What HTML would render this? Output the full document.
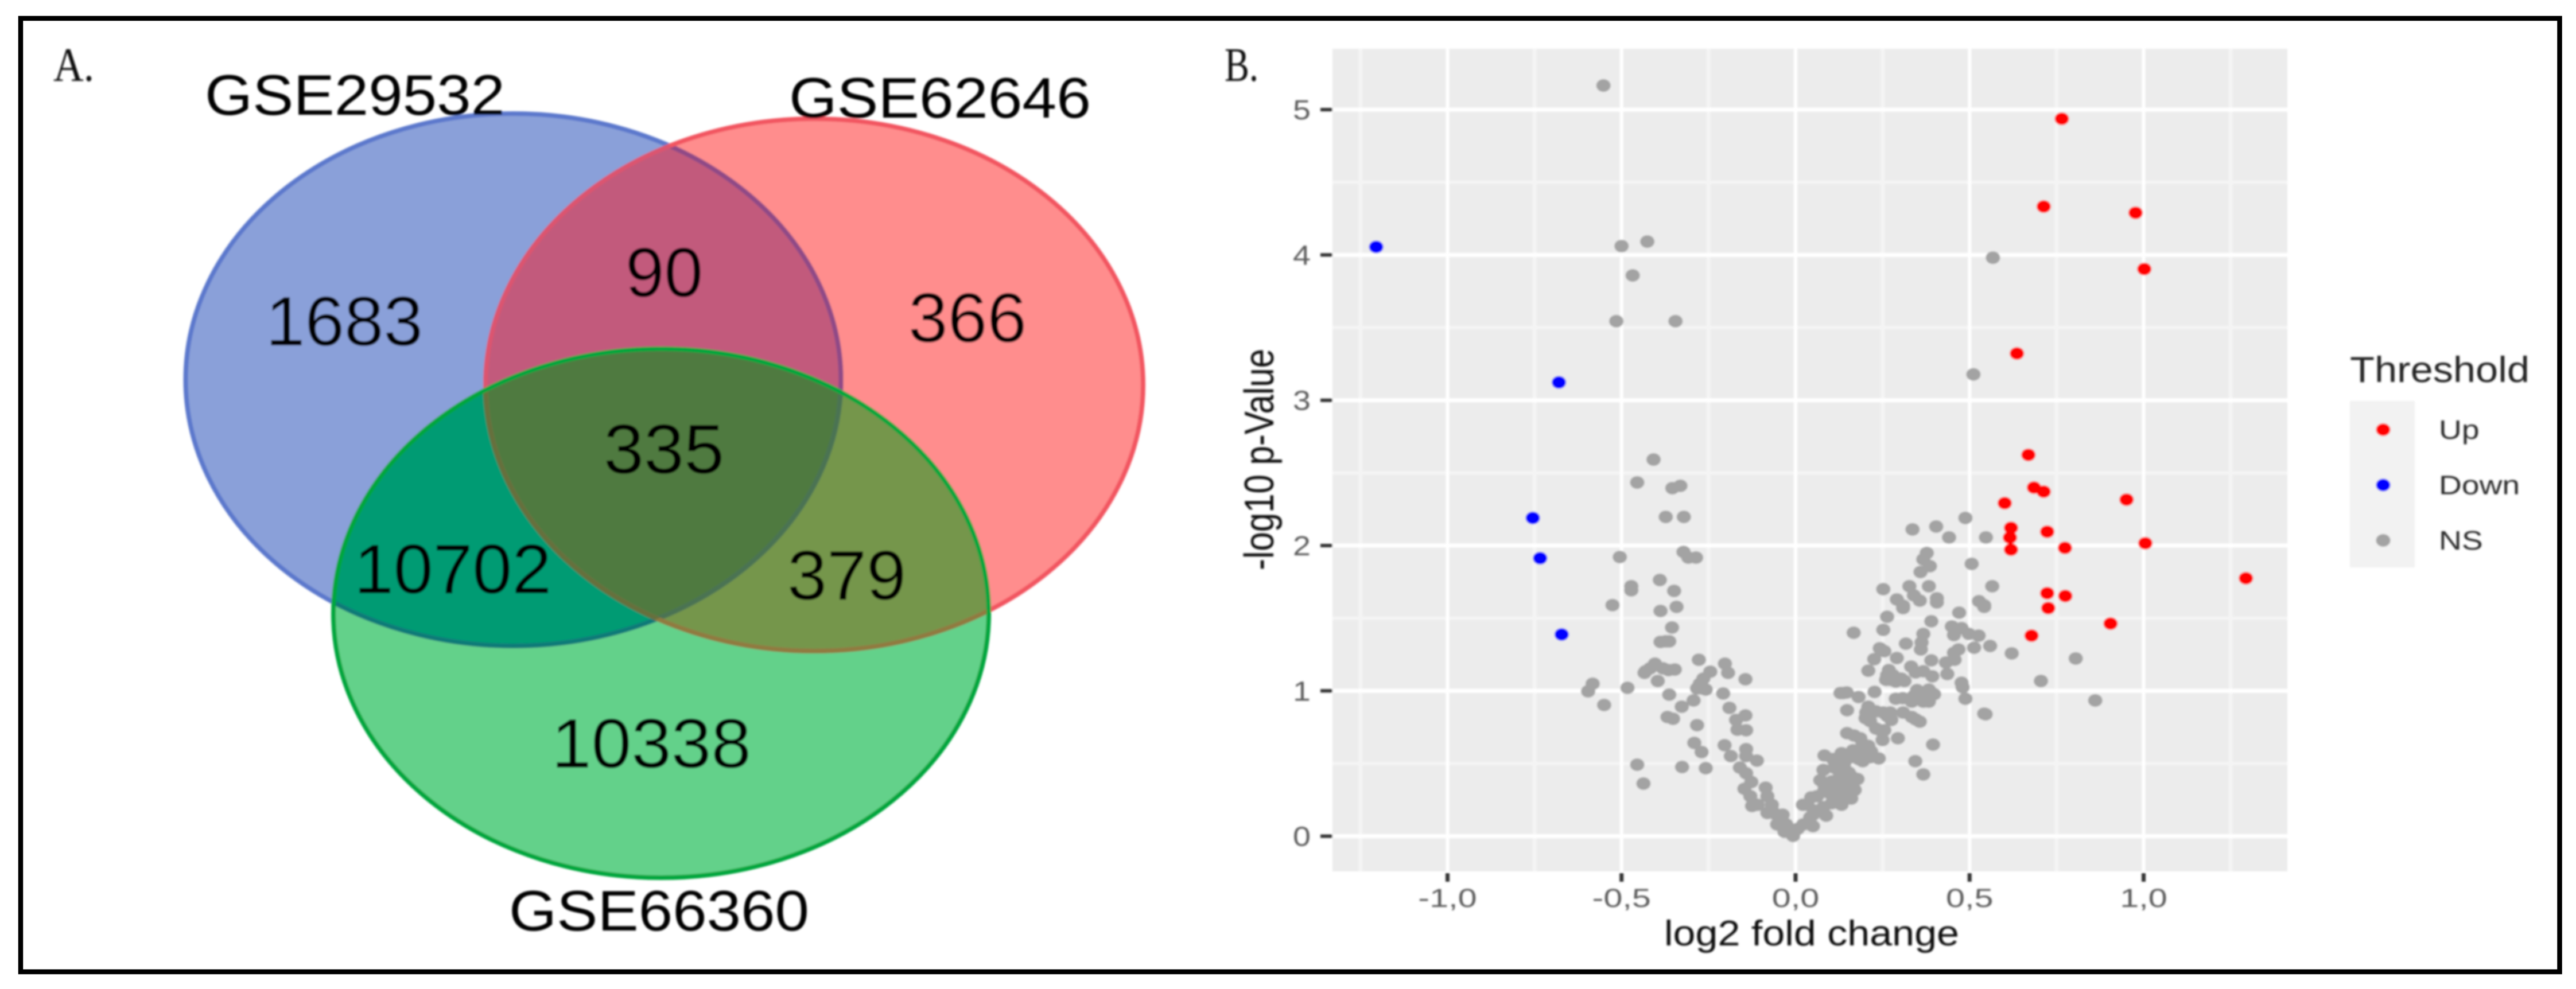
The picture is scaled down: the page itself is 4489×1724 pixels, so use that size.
<!DOCTYPE html>
<html lang="en">
<head>
<meta charset="utf-8">
<title>Venn diagram and volcano plot</title>
<style>
html,body{margin:0;padding:0;background:#fff;width:4489px;height:1724px;overflow:hidden}
svg{display:block}
text{font-family:"Liberation Sans",Arial,sans-serif}
.serif{font-family:"Liberation Serif","Times New Roman",serif}
</style>
</head>
<body>
<svg id="fig" xmlns="http://www.w3.org/2000/svg" width="4489" height="1724" viewBox="0 0 4489 1724">
<defs>
<filter id="soft" filterUnits="userSpaceOnUse" x="0" y="0" width="4489" height="1724"><feGaussianBlur stdDeviation="1.5"/></filter>
<clipPath id="clipB"><ellipse cx="894.5" cy="662" rx="571" ry="464"/></clipPath>
<clipPath id="clipR"><ellipse cx="1419" cy="671" rx="573" ry="464"/></clipPath>
<clipPath id="clipG"><ellipse cx="1152" cy="1069" rx="571" ry="461"/></clipPath>
<ellipse id="eB" cx="894.5" cy="662" rx="571" ry="464"/>
<ellipse id="eR" cx="1419" cy="671" rx="573" ry="464"/>
<ellipse id="eG" cx="1152" cy="1069" rx="571" ry="461"/>
</defs>
<rect width="4489" height="1724" fill="#fff"/>
<g filter="url(#soft)">
<g id="venn">
<use href="#eB" fill="#8aa0d9"/>
<use href="#eR" fill="#ff8d8d"/>
<use href="#eG" fill="#63d18a"/>
<g clip-path="url(#clipB)"><use href="#eR" fill="#c25a7c"/></g>
<g clip-path="url(#clipB)"><use href="#eG" fill="#009b73"/></g>
<g clip-path="url(#clipR)"><use href="#eG" fill="#75964c"/></g>
<g clip-path="url(#clipB)"><g clip-path="url(#clipR)"><use href="#eG" fill="#507a40"/></g></g>

<g fill="none" stroke-width="8">
<use href="#eB" stroke="#5b78cc"/>
<g clip-path="url(#clipR)"><use href="#eB" stroke="#8f4a86"/></g>
<g clip-path="url(#clipG)"><use href="#eB" stroke="#0b7a78"/></g>
<g clip-path="url(#clipG)"><g clip-path="url(#clipR)"><use href="#eB" stroke="#4c7352"/></g></g>
</g>
<g fill="none" stroke-width="8">
<use href="#eR" stroke="#f25560"/>
<g clip-path="url(#clipB)"><use href="#eR" stroke="#dc5570"/></g>
<g clip-path="url(#clipG)"><use href="#eR" stroke="#907a40"/></g>
<g clip-path="url(#clipG)"><g clip-path="url(#clipB)"><use href="#eR" stroke="#66703c"/></g></g>
</g>
<use href="#eG" fill="none" stroke="#00a63c" stroke-width="8"/>

<text x="357" y="200" font-size="99" textLength="523" lengthAdjust="spacingAndGlyphs" fill="#000">GSE29532</text>
<text x="1375" y="205" font-size="99" textLength="526" lengthAdjust="spacingAndGlyphs" fill="#000">GSE62646</text>
<text x="887" y="1622" font-size="99" textLength="523" lengthAdjust="spacingAndGlyphs" fill="#000">GSE66360</text>
<text x="463" y="602" font-size="122" textLength="274" lengthAdjust="spacingAndGlyphs" fill="#000">1683</text>
<text x="1090" y="517" font-size="122" textLength="135" lengthAdjust="spacingAndGlyphs" fill="#000">90</text>
<text x="1583" y="596" font-size="122" textLength="206" lengthAdjust="spacingAndGlyphs" fill="#000">366</text>
<text x="1052" y="825" font-size="122" textLength="210" lengthAdjust="spacingAndGlyphs" fill="#000">335</text>
<text x="617" y="1034" font-size="122" textLength="344" lengthAdjust="spacingAndGlyphs" fill="#000">10702</text>
<text x="1372" y="1045" font-size="122" textLength="207" lengthAdjust="spacingAndGlyphs" fill="#000">379</text>
<text x="961" y="1338" font-size="122" textLength="348" lengthAdjust="spacingAndGlyphs" fill="#000">10338</text>
<text class="serif" x="93" y="141" font-size="84" textLength="71" lengthAdjust="spacingAndGlyphs" fill="#111">A.</text>
</g>
<g id="volcano">
<text class="serif" x="2134" y="141" font-size="84" textLength="59" lengthAdjust="spacingAndGlyphs" fill="#111">B.</text>
<rect x="2322" y="85" width="1664" height="1434" fill="#ececec"/>
<g id="grid"></g>
<g id="axes"></g>
<g id="points"></g>
<text x="2900" y="1648" font-size="62" textLength="514" lengthAdjust="spacingAndGlyphs" fill="#111">log2 fold change</text>
<text transform="translate(2219 994) rotate(-90)" x="0" y="0" font-size="72" textLength="386" lengthAdjust="spacingAndGlyphs" fill="#111">-log10 p-Value</text>
<g id="legend">
<text x="4095" y="666" font-size="63" textLength="313" lengthAdjust="spacingAndGlyphs" fill="#222">Threshold</text>
<rect x="4095" y="699" width="113" height="290" fill="#f2f2f2"/>
</g>
</g>
</g>
<rect x="36" y="32" width="4424.5" height="1662" fill="none" stroke="#000" stroke-width="8.5"/>
</svg>
<script>
const xTicks = [-1, -0.5, 0, 0.5, 1];
const xTickLabels = ["-1,0", "-0,5", "0,0", "0,5", "1,0"];
const yTicks = [0, 1, 2, 3, 4, 5];
const yTickLabels = ["0", "1", "2", "3", "4", "5"];
const legendLabels = ["Up", "Down", "NS"];

const upX = [0.765,0.713,0.977,1.002,0.636,0.669,0.685,0.713,0.601,0.951,0.619,0.616,0.619,0.723,0.774,1.005,1.294,0.723,0.775,0.726,0.905,0.678];
const upY = [4.937,4.333,4.290,3.903,3.322,2.624,2.399,2.371,2.292,2.316,2.122,2.055,1.972,2.095,1.984,2.016,1.775,1.672,1.653,1.570,1.463,1.380];

const downX = [-1.205,-0.680,-0.755,-0.734,-0.672];
const downY = [4.055,3.123,2.190,1.913,1.388];

const nsX = [-0.552,-0.500,-0.426,-0.468,-0.515,-0.345,-0.408,-0.455,-0.331,-0.354,-0.373,-0.321,-0.322,-0.308,-0.286,-0.505,-0.390,-0.472,-0.472,-0.349,-0.526,-0.388,-0.342,-0.355,-0.388,-0.373,-0.363,-0.278,-0.203,-0.194,-0.245,-0.265,-0.275,-0.270,-0.283,-0.258,-0.144,-0.404,-0.418,-0.434,-0.431,-0.381,-0.365,-0.347,-0.396,-0.483,-0.583,-0.596,-0.550,-0.363,-0.293,-0.327,-0.368,-0.352,-0.283,-0.208,-0.190,-0.144,-0.171,-0.167,-0.142,-0.204,-0.291,-0.270,-0.142,-0.186,-0.142,-0.111,-0.455,-0.326,-0.258,-0.437,-0.160,-0.142,-0.127,-0.147,-0.086,-0.130,-0.125,-0.109,-0.081,-0.068,-0.060,-0.043,-0.027,-0.053,-0.032,-0.007,-0.081,-0.037,-0.019,-0.068,
0.006,0.022,0.050,0.042,0.034,0.062,0.080,0.088,0.055,0.080,0.083,0.096,0.116,0.104,0.132,0.160,0.127,0.170,0.148,0.178,0.153,0.129,0.104,0.083,0.080,0.111,0.116,0.140,0.157,0.170,0.193,0.214,0.239,0.144,0.153,0.127,0.148,0.168,0.186,0.193,0.209,0.186,0.217,0.250,0.244,0.231,0.255,0.294,0.395,0.344,0.367,0.148,0.209,0.201,0.214,0.203,0.231,0.252,0.272,0.275,0.263,0.309,0.334,0.357,0.345,0.181,0.137,0.129,0.147,0.227,0.288,0.308,0.334,0.357,0.383,0.398,0.383,0.349,0.340,0.367,0.209,0.226,0.242,0.255,0.291,0.268,0.263,0.272,0.288,0.313,0.280,0.304,0.260,0.332,0.345,0.367,0.393,0.436,0.390,0.432,0.457,0.455,0.468,0.513,0.559,0.477,0.480,0.488,0.542,0.621,0.317,0.362,0.360,0.367,0.449,0.455,0.477,0.498,0.526,0.390,0.470,0.263,0.252,0.167,0.309,0.542,0.527,0.805,0.705,0.861,0.546,0.336,0.404,0.441,0.488,0.547,0.506,0.377,0.367,0.386,0.359,0.252,0.327,0.383,0.565,0.291,0.309,0.340,0.357,0.406,0.406,0.542,0.567,0.511,0.021,0.050,0.045,0.071,0.132,0.107,0.144,0.160,0.181,0.148,0.165];
const nsY = [5.166,4.061,4.092,3.859,3.544,3.544,2.592,2.434,2.411,2.395,2.197,2.197,1.956,1.917,1.917,1.921,1.763,1.720,1.692,1.688,1.590,1.550,1.578,1.436,1.337,1.341,1.341,1.214,1.187,1.124,1.132,1.084,1.049,1.017,1.017,1.009,1.080,1.187,1.155,1.124,1.135,1.155,1.143,1.147,1.068,1.021,1.049,0.997,0.903,0.974,0.934,0.891,0.820,0.808,0.764,0.982,0.883,0.831,0.800,0.733,0.729,0.626,0.642,0.579,0.599,0.551,0.551,0.520,0.492,0.476,0.468,0.362,0.472,0.433,0.373,0.326,0.334,0.275,0.208,0.216,0.275,0.216,0.156,0.109,0.081,0.081,0.030,0.002,0.160,0.148,0.042,0.176,
0.050,0.081,0.069,0.129,0.216,0.275,0.200,0.141,0.176,0.366,0.318,0.298,0.326,0.227,0.216,0.259,0.267,0.318,0.326,0.393,0.397,0.393,0.377,0.555,0.456,0.472,0.531,0.504,0.543,0.583,0.516,0.543,0.535,0.452,0.437,0.437,0.709,0.693,0.674,0.634,0.622,0.591,0.583,0.662,0.729,0.741,0.729,0.674,0.630,0.516,0.425,0.867,0.891,0.812,0.792,0.851,0.859,0.851,0.851,0.800,0.827,0.851,0.820,0.788,0.804,0.958,0.985,0.985,0.989,0.993,0.946,0.950,0.926,0.950,0.926,0.977,1.009,1.005,0.966,0.926,1.139,1.218,1.293,1.273,1.226,1.143,1.108,1.076,1.064,1.068,1.108,1.084,1.076,1.167,1.127,1.135,1.100,1.116,1.210,1.195,1.214,1.262,1.285,1.297,1.309,1.056,1.025,0.946,0.843,1.258,1.325,1.333,1.285,1.392,1.443,1.384,1.432,1.392,1.380,1.479,1.538,1.510,1.420,1.400,1.570,1.578,1.617,1.223,1.068,0.934,0.839,2.111,2.131,2.056,2.190,2.056,1.874,1.949,1.905,1.858,1.818,1.700,1.720,1.720,1.720,1.629,1.586,1.657,1.621,1.637,1.609,1.589,3.981,3.178,0.216,0.148,0.267,0.385,0.571,0.531,0.357,0.413,0.531,0.555,0.591];

const SVGNS = "http://www.w3.org/2000/svg";
function sx(v) { return 3129 + v * 606.5; }
function sy(v) { return 1457.6 - v * 253.3; }
const PANEL = { left: 2322, right: 3986, top: 85, bottom: 1519 };

function svgEl(tag, parent) {
  const el = document.createElementNS(SVGNS, tag);
  parent.appendChild(el);
  return el;
}
function line(parent, x1, y1, x2, y2, color, width) {
  const el = svgEl("line", parent);
  el.setAttribute("x1", x1);
  el.setAttribute("y1", y1);
  el.setAttribute("x2", x2);
  el.setAttribute("y2", y2);
  el.setAttribute("stroke", color);
  el.setAttribute("stroke-width", width);
  return el;
}
function dot(parent, cx, cy, color) {
  const el = svgEl("ellipse", parent);
  el.setAttribute("cx", cx);
  el.setAttribute("cy", cy);
  el.setAttribute("rx", 12.5);
  el.setAttribute("ry", 11);
  el.setAttribute("fill", color);
  return el;
}
function label(parent, x, y, str, size, color, anchor, stretch) {
  const el = svgEl("text", parent);
  el.textContent = str;
  el.setAttribute("x", x);
  el.setAttribute("y", y);
  el.setAttribute("font-size", size);
  el.setAttribute("fill", color);
  el.setAttribute("text-anchor", anchor);
  el.setAttribute("textLength", el.getComputedTextLength() * stretch);
  el.setAttribute("lengthAdjust", "spacingAndGlyphs");
  return el;
}

const grid = document.getElementById("grid");
const axes = document.getElementById("axes");
const points = document.getElementById("points");
const legend = document.getElementById("legend");

/* minor grid */
const xStep = xTicks[1] - xTicks[0];
const xMinor = [xTicks[0] - xStep / 2].concat(xTicks.map(function (t) { return t + xStep / 2; }));
xMinor.forEach(function (v) {
  const l = line(grid, sx(v), PANEL.top, sx(v), PANEL.bottom, "#f4f4f4", 7);
  
  
});
yTicks.slice(0, -1).forEach(function (t) {
  const l = line(grid, PANEL.left, sy(t + 0.5), PANEL.right, sy(t + 0.5), "#f4f4f4", 6);
  
  
});

/* major grid, ticks, labels */
xTicks.forEach(function (t, i) {
  const g = line(grid, sx(t), PANEL.top, sx(t), PANEL.bottom, "#ffffff", 6);
  
  
  const k = line(axes, sx(t), 1522, sx(t), 1537, "#333333", 7);
  
  
  const a = label(axes, sx(t), 1581, xTickLabels[i], 45, "#5c5c5c", "middle", 1.32);
  
  
});
yTicks.forEach(function (t, i) {
  const g = line(grid, PANEL.left, sy(t), PANEL.right, sy(t), "#ffffff", 7);
  
  
  const k = line(axes, 2301, sy(t), 2322, sy(t), "#333333", 6);
  
  
  const a = label(axes, 2284, sy(t) + 17, yTickLabels[i], 48, "#5c5c5c", "end", 1.16);
  
  
});

/* series */
nsX.forEach(function (v, i) {
  const d = dot(points, sx(v), sy(nsY[i]), "#a3a3a3");
  
  
});
downX.forEach(function (v, i) {
  const d = dot(points, sx(v), sy(downY[i]), "#0000ff");
  
  
});
upX.forEach(function (v, i) {
  const d = dot(points, sx(v), sy(upY[i]), "#ff0000");
  
  
});

/* legend */
const legendColors = ["#ff0000", "#0000ff", "#a3a3a3"];
legendLabels.forEach(function (name, i) {
  const rowY = 749 + i * 96.5;
  const d = dot(legend, 4153, rowY, legendColors[i]);
  
  
  const t = label(legend, 4250, rowY + 16, name, 46, "#2a2a2a", "start", 1.2);
  
  
});
</script>
</body>
</html>
